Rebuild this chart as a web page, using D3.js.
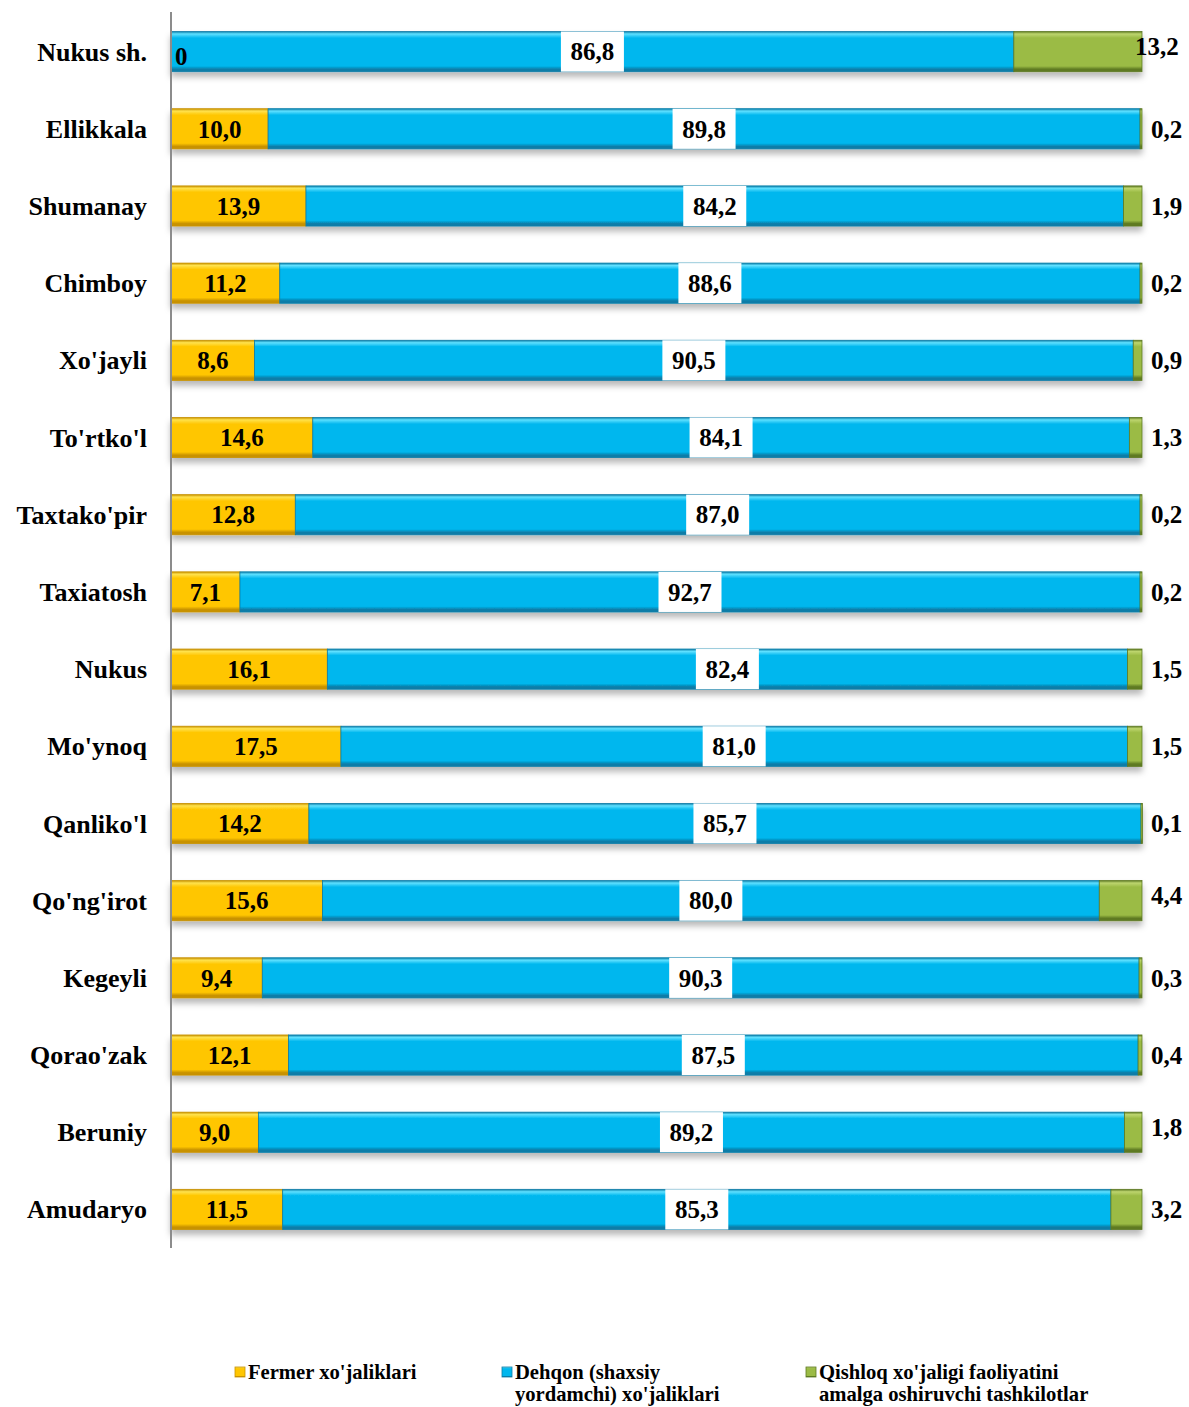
<!DOCTYPE html>
<html>
<head>
<meta charset="utf-8">
<script src="https://cdn.jsdelivr.net/npm/d3@7/dist/d3.min.js"></script>
<style>
  body { margin: 0; background: #fff; }
  svg { display: block; font-family: "Liberation Serif", "Times New Roman", serif; font-weight: bold; }
</style>
</head>
<body>
<div id="chart"></div>
<script>
const categories = ["Nukus sh.", "Ellikkala", "Shumanay", "Chimboy", "Xo'jayli", "To'rtko'l", "Taxtako'pir",
  "Taxiatosh", "Nukus", "Mo'ynoq", "Qanliko'l", "Qo'ng'irot", "Kegeyli", "Qorao'zak", "Beruniy", "Amudaryo"];
const fermer = [0, 10.0, 13.9, 11.2, 8.6, 14.6, 12.8, 7.1, 16.1, 17.5, 14.2, 15.6, 9.4, 12.1, 9.0, 11.5];
const dehqon = [86.8, 89.8, 84.2, 88.6, 90.5, 84.1, 87.0, 92.7, 82.4, 81.0, 85.7, 80.0, 90.3, 87.5, 89.2, 85.3];
const qishloq = [13.2, 0.2, 1.9, 0.2, 0.9, 1.3, 0.2, 0.2, 1.5, 1.5, 0.1, 4.4, 0.3, 0.4, 1.8, 3.2];
const seriesNames = ["Fermer xo'jaliklari", "Dehqon (shaxsiy|yordamchi) xo'jaliklari",
  "Qishloq xo'jaligi faoliyatini|amalga oshiruvchi tashkilotlar"];

(function () {
  const W = 1189, H = 1407;
  const COLORS = [
    { base: "#FFC600", light: "#FFE24D", dark: "#C89200" },
    { base: "#00B7EE", light: "#5FE0FF", dark: "#0A7DA8" },
    { base: "#9BBB45", light: "#BDD56E", dark: "#5E7A22" },
  ];
  const fmt = (v) => v.toFixed(1).replace(".", ",");

  const svg = d3.select("#chart").append("svg").attr("width", W).attr("height", H);
  const defs = svg.append("defs");

  COLORS.forEach((c, i) => {
    const g = defs.append("linearGradient").attr("id", `grad${i}`)
      .attr("x1", 0).attr("y1", 0).attr("x2", 0).attr("y2", 1);
    [[0, c.dark], [0.06, c.light], [0.16, c.base], [0.86, c.base], [0.94, c.dark], [1, c.dark]]
      .forEach(([o, col]) => g.append("stop").attr("offset", o).attr("stop-color", col));
  });
  const sh = defs.append("filter").attr("id", "shadow")
    .attr("x", "-5%").attr("y", "-20%").attr("width", "110%").attr("height", "160%");
  sh.append("feDropShadow").attr("dx", 0).attr("dy", 5).attr("stdDeviation", 3)
    .attr("flood-color", "#000").attr("flood-opacity", 0.28);

  const x = d3.scaleLinear().domain([0, 100]).range([171, 1142]);
  const y = d3.scaleBand().domain(categories).range([13, 1248]).paddingInner(0.48).paddingOuter(0.24);
  const bh = y.bandwidth();

  const rows = categories.map((c, i) => {
    const vals = [fermer[i], dehqon[i], qishloq[i]];
    let acc = 0;
    return { cat: c, segs: vals.map((v, k) => { const s = { k, v, x0: acc, x1: acc + v }; acc += v; return s; }) };
  });

  const rowG = svg.append("g").selectAll("g").data(rows).join("g")
    .attr("transform", (d) => `translate(0,${y(d.cat)})`);

  rowG.append("g").attr("filter", "url(#shadow)")
    .selectAll("rect").data((d) => d.segs.filter((s) => s.v > 0)).join("rect")
    .attr("x", (s) => x(s.x0)).attr("y", 0)
    .attr("width", (s) => Math.max(1.5, x(s.x1) - x(s.x0))).attr("height", bh)
    .attr("fill", (s) => `url(#grad${s.k})`)
    .attr("stroke", (s) => COLORS[s.k].dark).attr("stroke-width", 0.8);

  // axis line
  svg.append("line").attr("x1", 171).attr("x2", 171).attr("y1", 12).attr("y2", 1248)
    .attr("stroke", "#8c8c8c").attr("stroke-width", 2);

  // category labels
  rowG.append("text").attr("x", 147).attr("y", bh / 2).attr("dy", "0.35em")
    .attr("text-anchor", "end").attr("font-size", 26).text((d) => d.cat);

  // fermer labels
  rowG.append("text")
    .attr("x", (d) => d.segs[0].v > 0 ? x((d.segs[0].x0 + d.segs[0].x1) / 2) : 175)
    .attr("y", (d) => d.segs[0].v > 0 ? bh / 2 : bh / 2 + 5).attr("dy", "0.35em")
    .attr("text-anchor", (d) => d.segs[0].v > 0 ? "middle" : "start")
    .attr("font-size", 25).text((d) => d.segs[0].v > 0 ? fmt(d.segs[0].v) : "0");

  // dehqon labels with white box
  const dl = rowG.append("g")
    .attr("transform", (d) => `translate(${x((d.segs[1].x0 + d.segs[1].x1) / 2)},0)`);
  dl.append("rect").attr("x", -31.5).attr("y", 0).attr("width", 63).attr("height", bh).attr("fill", "#fff");
  dl.append("text").attr("y", bh / 2).attr("dy", "0.35em").attr("text-anchor", "middle")
    .attr("font-size", 25).text((d) => fmt(d.segs[1].v));

  // qishloq labels
  rowG.append("text")
    .attr("x", (d) => d.segs[2].v > 10 ? x(100) - 7 : x(100) + 9)
    .attr("y", (d) => bh / 2 - (d.segs[2].v > 1.7 && d.segs[2].v !== 1.9 && d.segs[2].v !== 3.2 ? 5 : 0))
    .attr("dy", "0.35em").attr("font-size", 25).text((d) => fmt(d.segs[2].v));

  // legend
  const legX = [235, 502, 806];
  const leg = svg.append("g").selectAll("g").data(seriesNames).join("g")
    .attr("transform", (d, i) => `translate(${legX[i]},1366)`);
  leg.append("rect").attr("width", 10).attr("height", 10).attr("y", 1)
    .attr("fill", (d, i) => `url(#grad${i})`).attr("stroke", (d, i) => COLORS[i].dark).attr("stroke-width", 0.8);
  leg.append("text").attr("font-size", 21.5).attr("transform", "scale(0.96,1)")
    .selectAll("tspan").data((d) => d.split("|")).join("tspan")
    .attr("x", 13.5).attr("y", (t, j) => 13 + j * 22).text((t) => t);
})();
</script>
</body>
</html>
